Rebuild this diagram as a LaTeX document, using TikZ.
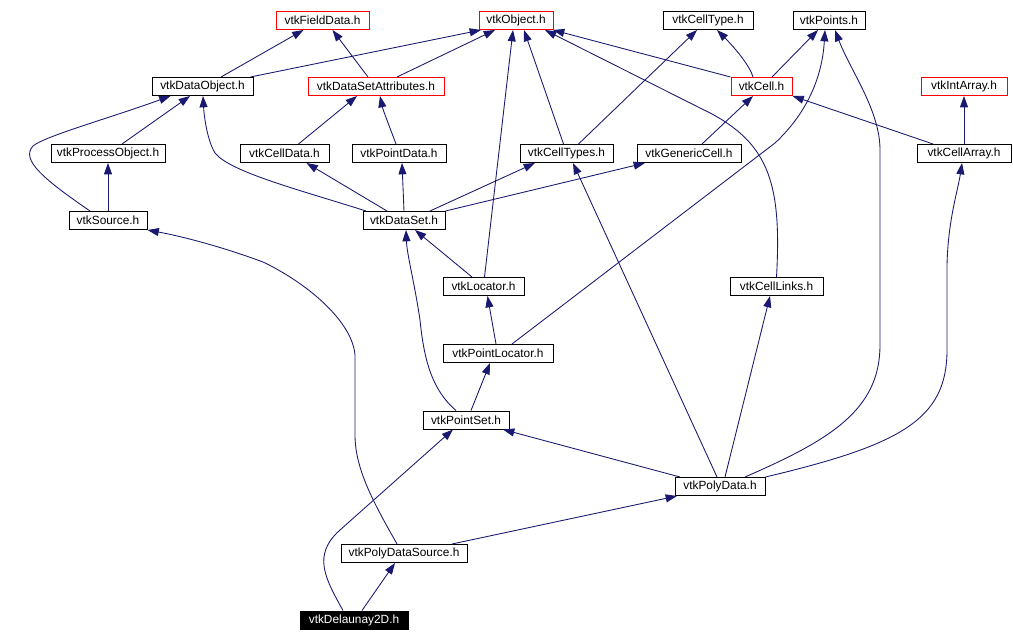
\documentclass[tikz,border=0pt]{standalone}
\usepackage{fontspec}
\setmainfont{Liberation Sans}
\usetikzlibrary{arrows.meta,calc}
\definecolor{edgeblue}{HTML}{191970}
\begin{document}
\begin{tikzpicture}[x=0.75pt,y=-0.75pt,
  box/.style={draw=black,line width=0.75pt,fill=white,inner sep=0pt,minimum height=13.5pt,font=\fontsize{8.9}{10}\selectfont},
  redbox/.style={box,draw=red},
  darkbox/.style={box,fill=black,text=white},
  bw/.style={minimum width=#1*0.75pt},
  dep/.style={draw=edgeblue,line width=0.65pt,-{Triangle[length=8.5pt,width=6pt]}}]
\fill[white] (0,0) rectangle (1013,642);
\useasboundingbox (0,0) rectangle (1013,642);

\node[redbox,bw=93] (fielddata) at (322.5,20.5) {vtkFieldData.h};
\node[redbox,bw=74] (object) at (516,20.5) {vtkObject.h};
\node[box,bw=90] (celltype) at (708,20.5) {vtkCellType.h};
\node[box,bw=72] (points) at (829,20.5) {vtkPoints.h};
\node[box,bw=101] (dataobject) at (202.5,86.5) {vtkDataObject.h};
\node[redbox,bw=136] (dsattr) at (376,86.5) {vtkDataSetAttributes.h};
\node[redbox,bw=61] (cell) at (761.5,86.5) {vtkCell.h};
\node[redbox,bw=86] (intarray) at (964,86.5) {vtkIntArray.h};
\node[box,bw=114] (procobj) at (108,153.5) {vtkProcessObject.h};
\node[box,bw=89] (celldata) at (284.5,153.5) {vtkCellData.h};
\node[box,bw=94] (pointdata) at (399,153.5) {vtkPointData.h};
\node[box,bw=93] (celltypes) at (566.5,153.5) {vtkCellTypes.h};
\node[box,bw=104] (genericcell) at (689,153.5) {vtkGenericCell.h};
\node[box,bw=94] (cellarray) at (964,153.5) {vtkCellArray.h};
\node[box,bw=78] (source) at (108,220.5) {vtkSource.h};
\node[box,bw=82] (dataset) at (404,220.5) {vtkDataSet.h};
\node[box,bw=81] (locator) at (483.5,286.5) {vtkLocator.h};
\node[box,bw=93] (celllinks) at (776.5,286.5) {vtkCellLinks.h};
\node[box,bw=110] (pointlocator) at (498,353.5) {vtkPointLocator.h};
\node[box,bw=86] (pointset) at (466,420) {vtkPointSet.h};
\node[box,bw=90] (polydata) at (720,486.5) {vtkPolyData.h};
\node[box,bw=126] (pdsource) at (404,553.5) {vtkPolyDataSource.h};
\node[darkbox,bw=108] (delaunay) at (354,620) {vtkDelaunay2D.h};

\draw[dep] ($(dataobject.north)+(18.5,0)$) -- ($(fielddata.south)+(-19,0)$);
\draw[dep] ($(dataobject.north east)+(-3,0)$) -- ($(object.south)+(-35,0)$);
\draw[dep] ($(dsattr.north)+(-8,0)$) -- ($(fielddata.south)+(10,0)$);
\draw[dep] ($(dsattr.north)+(21,0)$) -- ($(object.south)+(-21,0)$);
\draw[dep] ($(procobj.north)+(14,0)$) -- ($(dataobject.south)+(-12.5,0)$);
\draw[dep] ($(source.north)+(-18,0)$) .. controls (45,180) and (20,160) .. (33,146) .. controls (45,136) and (110,118) .. ($(dataobject.south)+(-32,0)$);
\draw[dep] (source.north) -- (procobj.south);
\draw[dep] ($(dataset.north)+(-38,0)$) .. controls (300,190) and (230,172) .. (215,153) .. controls (207,140) and (204,115) .. ($(dataobject.south)+(0.5,0)$);
\draw[dep] ($(celldata.north)+(14,0)$) -- ($(dsattr.south)+(-19,0)$);
\draw[dep] ($(pointdata.north)+(-3,0)$) .. controls (390,128) and (383,110) .. ($(dsattr.south)+(4,0)$);
\draw[dep] ($(dataset.north)+(-17,0)$) -- ($(celldata.south)+(22,0)$);
\draw[dep] (dataset.north) -- ($(pointdata.south)+(3,0)$);
\draw[dep] ($(dataset.north)+(26,0)$) -- ($(celltypes.south)+(-31.5,0)$);
\draw[dep] (dataset.north east) -- ($(genericcell.south)+(-44,0)$);
\draw[dep] ($(celltypes.north)+(-3,0)$) -- ($(object.south)+(8,0)$);
\draw[dep] ($(celltypes.north)+(12,0)$) -- ($(celltype.south)+(-11,0)$);
\draw[dep] (cell.north west) -- ($(object.south)+(37,0)$);
\draw[dep] ($(cell.north)+(-8.5,0)$) .. controls (750,66) and (735,48) .. ($(celltype.south)+(9,0)$);
\draw[dep] ($(cell.north)+(10.5,0)$) -- ($(points.south)+(-11,0)$);
\draw[dep] ($(genericcell.north)+(13,0)$) -- ($(cell.south)+(-8.5,0)$);
\draw[dep] ($(cellarray.north)+(-31,0)$) -- (cell.south east);
\draw[dep] (cellarray.north) -- (intarray.south);
\draw[dep] ($(locator.north)+(-11.5,0)$) -- ($(dataset.south)+(11,0)$);
\draw[dep] ($(locator.north)+(1,0)$) -- ($(object.south)+(-3,0)$);
\draw[dep] ($(pointlocator.north)+(-2,0)$) -- ($(locator.south)+(4,0)$);
\draw[dep] ($(pointlocator.north)+(14,0)$) -- (775,143) .. controls (805,115) and (822,80) .. ($(points.south)+(-4,0)$);
\draw[dep] ($(pointset.north)+(-10,0)$) .. controls (432,390) and (424,360) .. (420,320) .. controls (414,280) and (407,255) .. ($(dataset.south)+(2,0)$);
\draw[dep] ($(pointset.north)+(5,0)$) -- ($(pointlocator.south)+(-8,0)$);
\draw[dep] ($(polydata.north)+(-40,0)$) -- ($(pointset.south)+(37,0)$);
\draw[dep] ($(polydata.north)+(-3,0)$) -- ($(celltypes.south)+(6.5,0)$);
\draw[dep] ($(polydata.north)+(5,0)$) -- ($(celllinks.south)+(-6.5,0)$);
\draw[dep] ($(polydata.north)+(25,0)$) .. controls (830,440) and (880,410) .. (880,345) -- (880,150) .. controls (880,110) and (850,70) .. ($(points.south)+(6,0)$);
\draw[dep] (polydata.north east) .. controls (900,445) and (947,420) .. (947,350) -- (947,265) .. controls (948,220) and (958,190) .. ($(cellarray.south)+(-2,0)$);
\draw[dep] (celllinks.north) .. controls (782,180) and (768,140) .. (700,108) -- ($(object.south)+(29,0)$);
\draw[dep] ($(pdsource.north)+(48,0)$) -- ($(polydata.south)+(-43,0)$);
\draw[dep] ($(pdsource.north)+(-7,0)$) .. controls (375,505) and (355,470) .. (355,435) -- (355,355) .. controls (352,320) and (305,282) .. (263,262) .. controls (220,246) and (180,236) .. (source.south east);
\draw[dep] ($(delaunay.north)+(8,0)$) -- ($(pdsource.south)+(-9,0)$);
\draw[dep] ($(delaunay.north)+(-11,0)$) .. controls (325,578) and (312,555) .. (340,530) -- ($(pointset.south)+(-13,0)$);
\end{tikzpicture}
\end{document}
